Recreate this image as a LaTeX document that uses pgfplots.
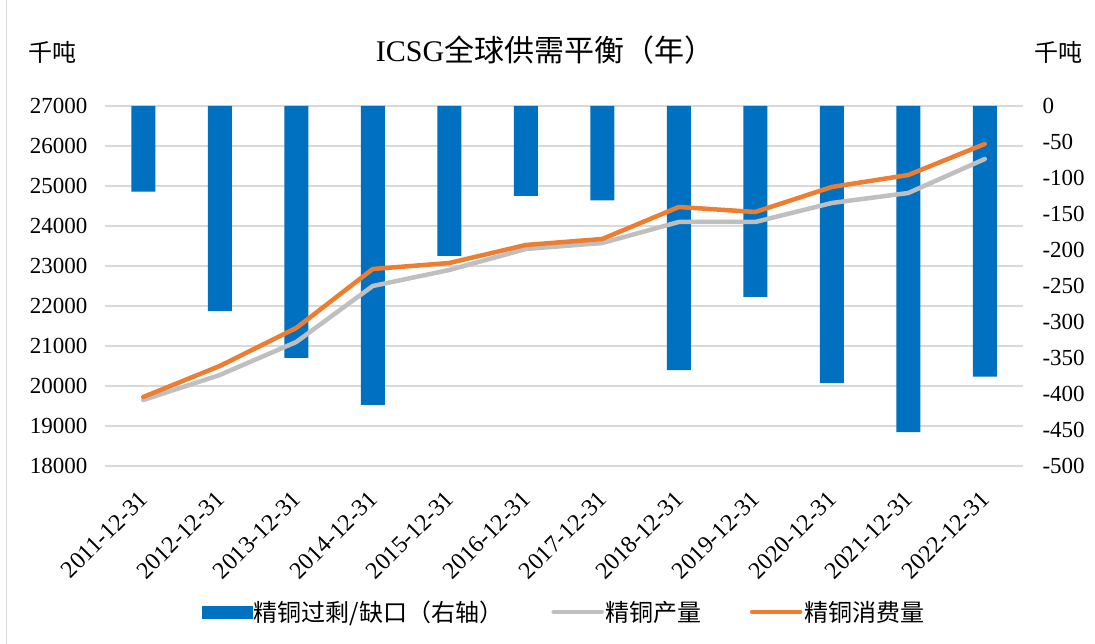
\documentclass[border=0pt]{standalone}
\usepackage{pgfplots}
\pgfplotsset{compat=1.18}
\usepackage{fontspec}
\setmainfont{Liberation Serif}
\newfontfamily\cjk{Noto Sans CJK SC}
\definecolor{barblue}{HTML}{0070C0}
\definecolor{lineorange}{HTML}{ED7D31}
\definecolor{linegray}{HTML}{BFBFBF}
\definecolor{gridgray}{HTML}{D9D9D9}
\begin{document}
\begin{tikzpicture}
\useasboundingbox (-105pt,-178pt) rectangle (990pt,466pt);
\fill[white] (-105pt,-178pt) rectangle (990pt,466pt);
\draw[gridgray, line width=1pt] (-98pt,-178pt) -- (-98pt,466pt);
\pgfplotsset{
  base/.style={
    scale only axis, width=918pt, height=360pt,
    at={(0pt,0pt)}, anchor=south west,
    xmin=-0.5, xmax=11.5,
    axis line style={draw=none},
    tick style={draw=none},
    scaled y ticks=false,
    /pgf/number format/assume math mode=true,
    /pgf/number format/set thousands separator={},
    tick label style={font=\fontsize{23}{26}\selectfont},
  }
}
% Axis 1: left axis, grid, x labels, legend
\begin{axis}[base,
  ymin=18000, ymax=27000,
  ytick={18000,19000,...,27000},
  ymajorgrids, grid style={gridgray, line width=1.2pt},
  yticklabel style={anchor=east, xshift=-14pt},
  xtick={0,...,11},
  xticklabels={2011-12-31,2012-12-31,2013-12-31,2014-12-31,2015-12-31,2016-12-31,2017-12-31,2018-12-31,2019-12-31,2020-12-31,2021-12-31,2022-12-31},
  xticklabel style={rotate=45, anchor=east, xshift=-17pt, yshift=-21pt, font=\fontsize{24}{26}\selectfont},
  legend style={at={(0.5,-0.405)}, anchor=center, draw=none, fill=none,
    legend columns=3, font=\fontsize{24}{28}\selectfont\cjk,
    /tikz/every even column/.append style={column sep=46pt},
    legend cell align=left},
]
\addlegendimage{legend image code/.code={\fill[barblue] (0pt,-6pt) rectangle (50pt,6pt);}}
\addlegendentry{精铜过剩/缺口（右轴）}
\addlegendimage{legend image code/.code={\draw[linegray, line width=4.5pt, line cap=round] (2pt,0pt) -- (50pt,0pt);}}
\addlegendentry{精铜产量}
\addlegendimage{legend image code/.code={\draw[lineorange, line width=4.5pt, line cap=round] (2pt,0pt) -- (50pt,0pt);}}
\addlegendentry{精铜消费量}
\end{axis}
% Axis 2: bars, right axis
\begin{axis}[base,
  ymin=-500, ymax=0,
  axis y line*=right, axis x line=none,
  ytick={-500,-450,...,0},
  yticklabel style={anchor=west, xshift=16pt},
  ybar, bar width=24pt,
]
\addplot[fill=barblue, draw=none] coordinates {
(0,-119) (1,-285) (2,-350) (3,-415) (4,-208) (5,-125)
(6,-131) (7,-367) (8,-265) (9,-385) (10,-453) (11,-376)};
\end{axis}
% Axis 3: lines
\begin{axis}[base,
  ymin=18000, ymax=27000,
  axis x line=none, axis y line=none,
  xtick=\empty, ytick=\empty,
]
\addplot[linegray, line width=4.5pt, line join=round, line cap=round] coordinates {
(0,19650) (1,20275) (2,21100) (3,22500) (4,22900) (5,23425)
(6,23575) (7,24100) (8,24100) (9,24575) (10,24825) (11,25675)};
\addplot[lineorange, line width=4.5pt, line join=round, line cap=round] coordinates {
(0,19725) (1,20500) (2,21450) (3,22925) (4,23075) (5,23525)
(6,23675) (7,24475) (8,24350) (9,24975) (10,25275) (11,26050)};
\end{axis}
\node[font=\fontsize{30}{34}\selectfont] at (440pt,416pt) {ICSG{\cjk 全球供需平衡（年）}};
\node[font=\fontsize{24}{28}\selectfont\cjk] at (-52pt,414pt) {千吨};
\node[font=\fontsize{24}{28}\selectfont\cjk] at (953pt,414pt) {千吨};
\end{tikzpicture}
\end{document}
